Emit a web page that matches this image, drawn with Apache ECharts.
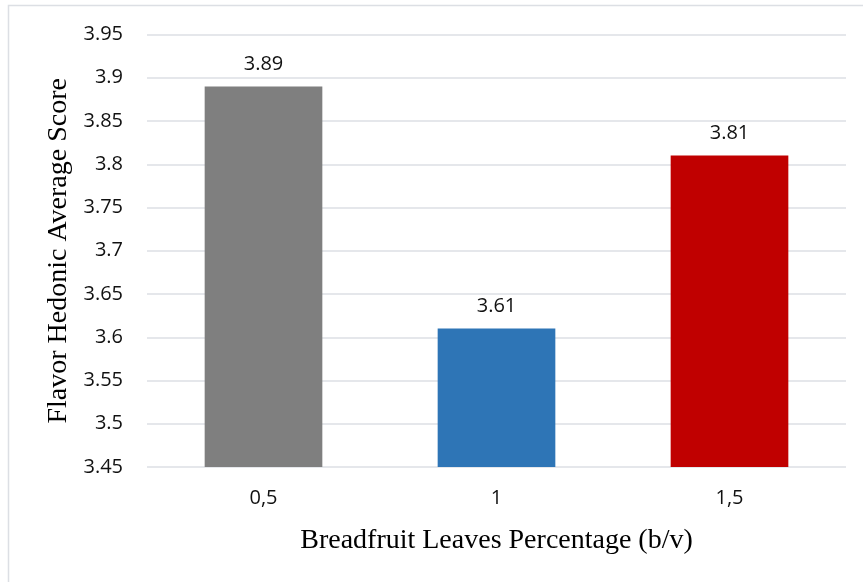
<!DOCTYPE html>
<html>
<head>
<meta charset="utf-8">
<script src="https://cdn.jsdelivr.net/npm/echarts@6/dist/echarts.min.js"></script>
<style>
  html, body { margin: 0; padding: 0; background: #ffffff; }
  #chart { width: 863px; height: 582px; }
</style>
</head>
<body>
<div id="chart"></div>
<script>
// Flavor hedonic scores by breadfruit leaf percentage
const categories = ['0,5', '1', '1,5'];
const scores = [3.89, 3.61, 3.81];
const barColors = ['#7f7f7f', '#2e75b6', '#c00000'];
const yTitle = 'Flavor Hedonic Average Score';
const xTitle = 'Breadfruit Leaves Percentage (b/v)';

const chart = echarts.init(document.getElementById('chart'));

const tickFont = { fontFamily: 'Open Sans', fontSize: 20, color: '#111111' };
const titleFont = { fontFamily: 'Liberation Serif', fontSize: 28, color: '#000000' };

chart.setOption({
  animation: false,
  backgroundColor: '#ffffff',
  graphic: [{
    type: 'rect',
    shape: { x: 8.5, y: 5.5, width: 900, height: 620 },
    style: { fill: null, stroke: '#dcdfe4', lineWidth: 1.5 },
    silent: true
  }],
  grid: { left: 147, right: 17, top: 34.5, bottom: 115, containLabel: false },
  xAxis: {
    type: 'category',
    data: categories,
    axisLine: { show: false },
    axisTick: { show: false },
    axisLabel: Object.assign({ margin: 21 }, tickFont),
    name: xTitle,
    nameLocation: 'middle',
    nameGap: 60,
    nameTextStyle: titleFont
  },
  yAxis: {
    type: 'value',
    min: 3.45,
    max: 3.95,
    interval: 0.05,
    axisLine: { show: false },
    axisTick: { show: false },
    splitLine: { lineStyle: { color: '#dcdfe4', width: 1.5 } },
    axisLabel: Object.assign({
      margin: 24,
      formatter: v => String(parseFloat(v.toFixed(2)))
    }, tickFont),
    name: yTitle,
    nameLocation: 'middle',
    nameGap: 74,
    nameTextStyle: titleFont
  },
  series: [{
    type: 'bar',
    barWidth: '50.5%',
    data: scores.map((v, i) => ({ value: v, itemStyle: { color: barColors[i] } })),
    label: {
      show: true,
      position: 'top',
      distance: 12,
      fontFamily: 'Open Sans',
      fontSize: 20,
      color: '#111111',
      formatter: p => p.value.toFixed(2)
    }
  }]
});
</script>
</body>
</html>
